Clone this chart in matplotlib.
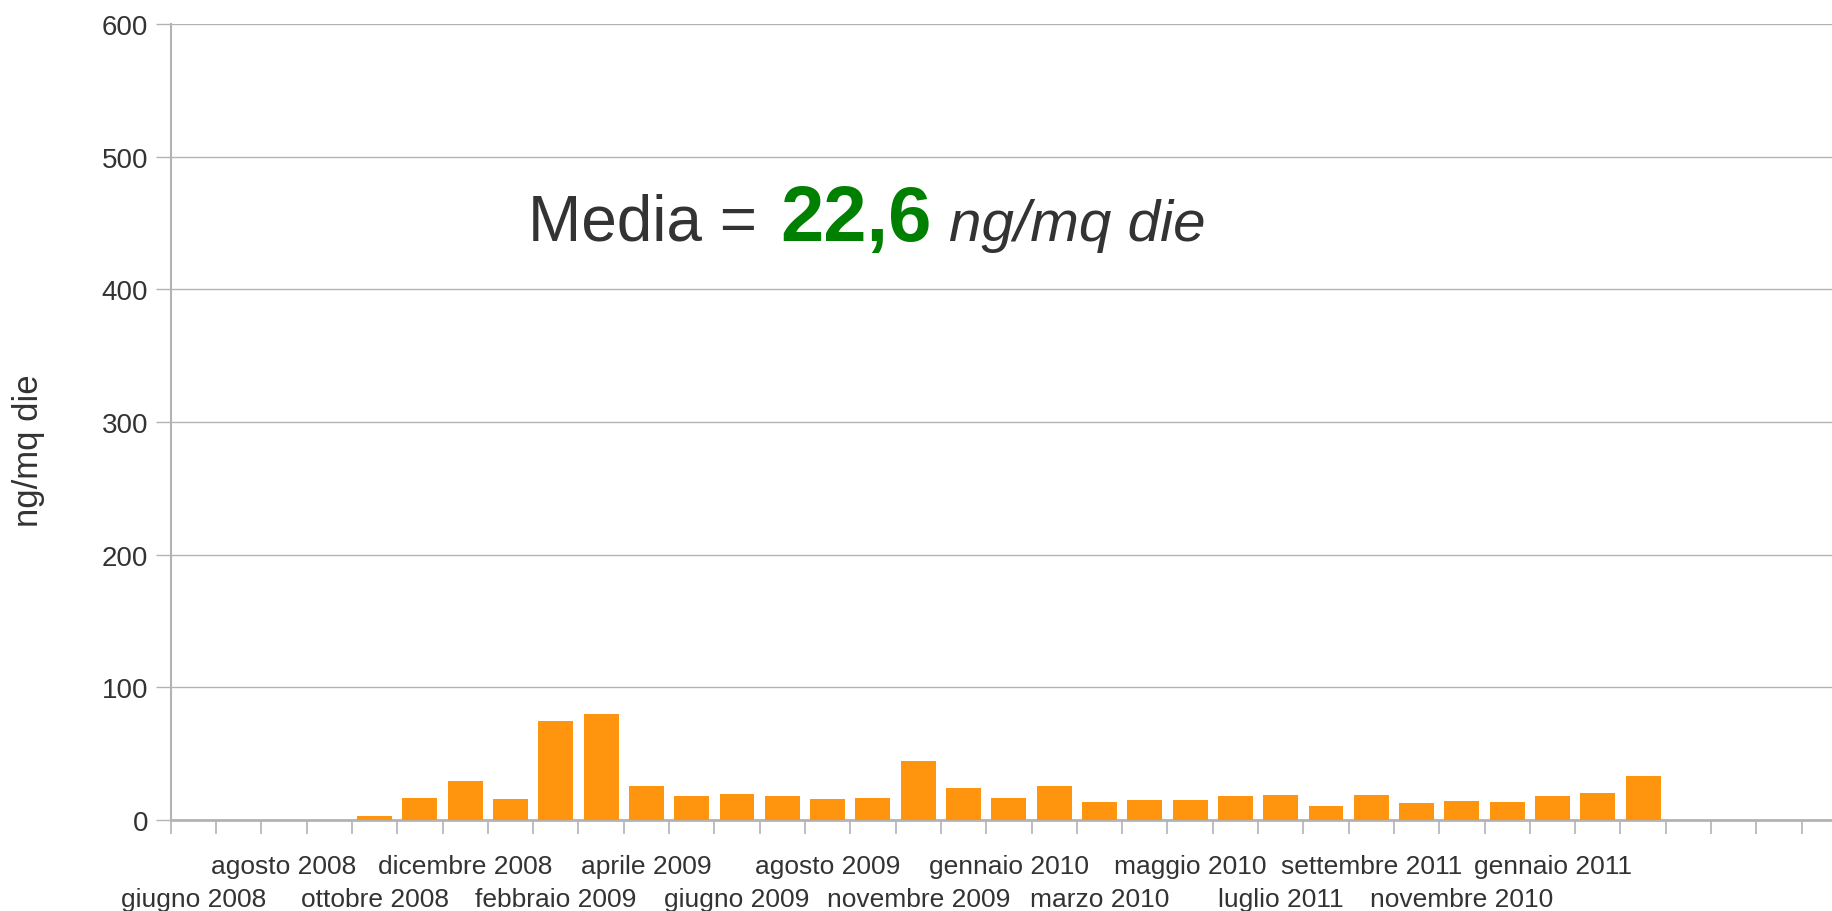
import matplotlib
matplotlib.use("Agg")
import matplotlib.pyplot as plt
import numpy as np

plt.rcParams["font.family"] = ["Liberation Sans", "DejaVu Sans"]

# monthly values (ng/mq die), 37 categories, empty ones at start and end
values = [0, 0, 0, 0, 3.0, 16.6, 29.4, 15.8, 74.6, 79.9, 25.6, 18.1, 19.6,
          18.1, 15.8, 16.6, 44.5, 24.1, 16.6, 25.6, 13.6, 15.1, 15.1, 18.1,
          18.8, 10.6, 18.8, 12.8, 14.3, 13.6, 18.1, 20.4, 33.2, 0, 0, 0, 0]

# only every other category carries a label
labels = ["giugno 2008", "agosto 2008", "ottobre 2008", "dicembre 2008",
          "febbraio 2009", "aprile 2009", "giugno 2009", "agosto 2009",
          "novembre 2009", "gennaio 2010", "marzo 2010", "maggio 2010",
          "luglio 2011", "settembre 2011", "novembre 2010", "gennaio 2011"]
label_pos = list(range(0, 32, 2))

yticks = [0, 100, 200, 300, 400, 500, 600]

txt = "#333333"
grid = "#b3b3b3"
orange = "#ff950e"

fig = plt.figure(figsize=(18.32, 9.12), dpi=100)
ax = fig.add_axes([170.7 / 1832, 91 / 912, (1847 - 170.7) / 1832, 796 / 912])

x = np.arange(len(values))
ax.bar(x, values, width=0.77, color=orange, zorder=3)

ax.set_xlim(-0.5, len(values) - 0.5)
ax.set_ylim(0, 600)
ax.set_yticks(yticks)
ax.set_yticklabels([str(v) for v in yticks], fontsize=20, color=txt)
ax.yaxis.grid(True, color=grid, linewidth=1)
ax.set_axisbelow(True)

# tick marks on category borders
ax.set_xticks(np.arange(len(values) + 1) - 0.5)
ax.set_xticklabels([])
ax.tick_params(axis="x", length=10, width=1.2, color=grid, direction="out")
ax.tick_params(axis="y", length=10.8, width=1, color=grid, pad=5.5)

for s in ["top", "right"]:
    ax.spines[s].set_visible(False)
ax.spines["left"].set_color(grid)
ax.spines["left"].set_linewidth(1.5)
ax.spines["bottom"].set_color(grid)
ax.spines["bottom"].set_linewidth(2)

# staggered category labels
for k, (p, lbl) in enumerate(zip(label_pos, labels)):
    off = -86 if k % 2 == 0 else -53
    ax.annotate(lbl, xy=(p, 0), xycoords=("data", "axes fraction"),
                xytext=(0, off), textcoords="offset pixels",
                ha="center", va="baseline", fontsize=19, color=txt,
                annotation_clip=False)

fig.text(29 / 1832, (912 - 451) / 912, "ng/mq die", rotation=90, ha="center",
         va="center", fontsize=25, color=txt)

# mean annotation
by = (912 - 241) / 912
fig.text(528 / 1832, by, "Media =", fontsize=46, color=txt, va="baseline")
fig.text(780 / 1832, by, "22,6", fontsize=56, fontweight="bold",
         color="#008000", va="baseline")
fig.text(949 / 1832, by, "ng/mq die", fontsize=42, style="italic",
         color=txt, va="baseline")

fig.savefig("out.png", dpi=100)
